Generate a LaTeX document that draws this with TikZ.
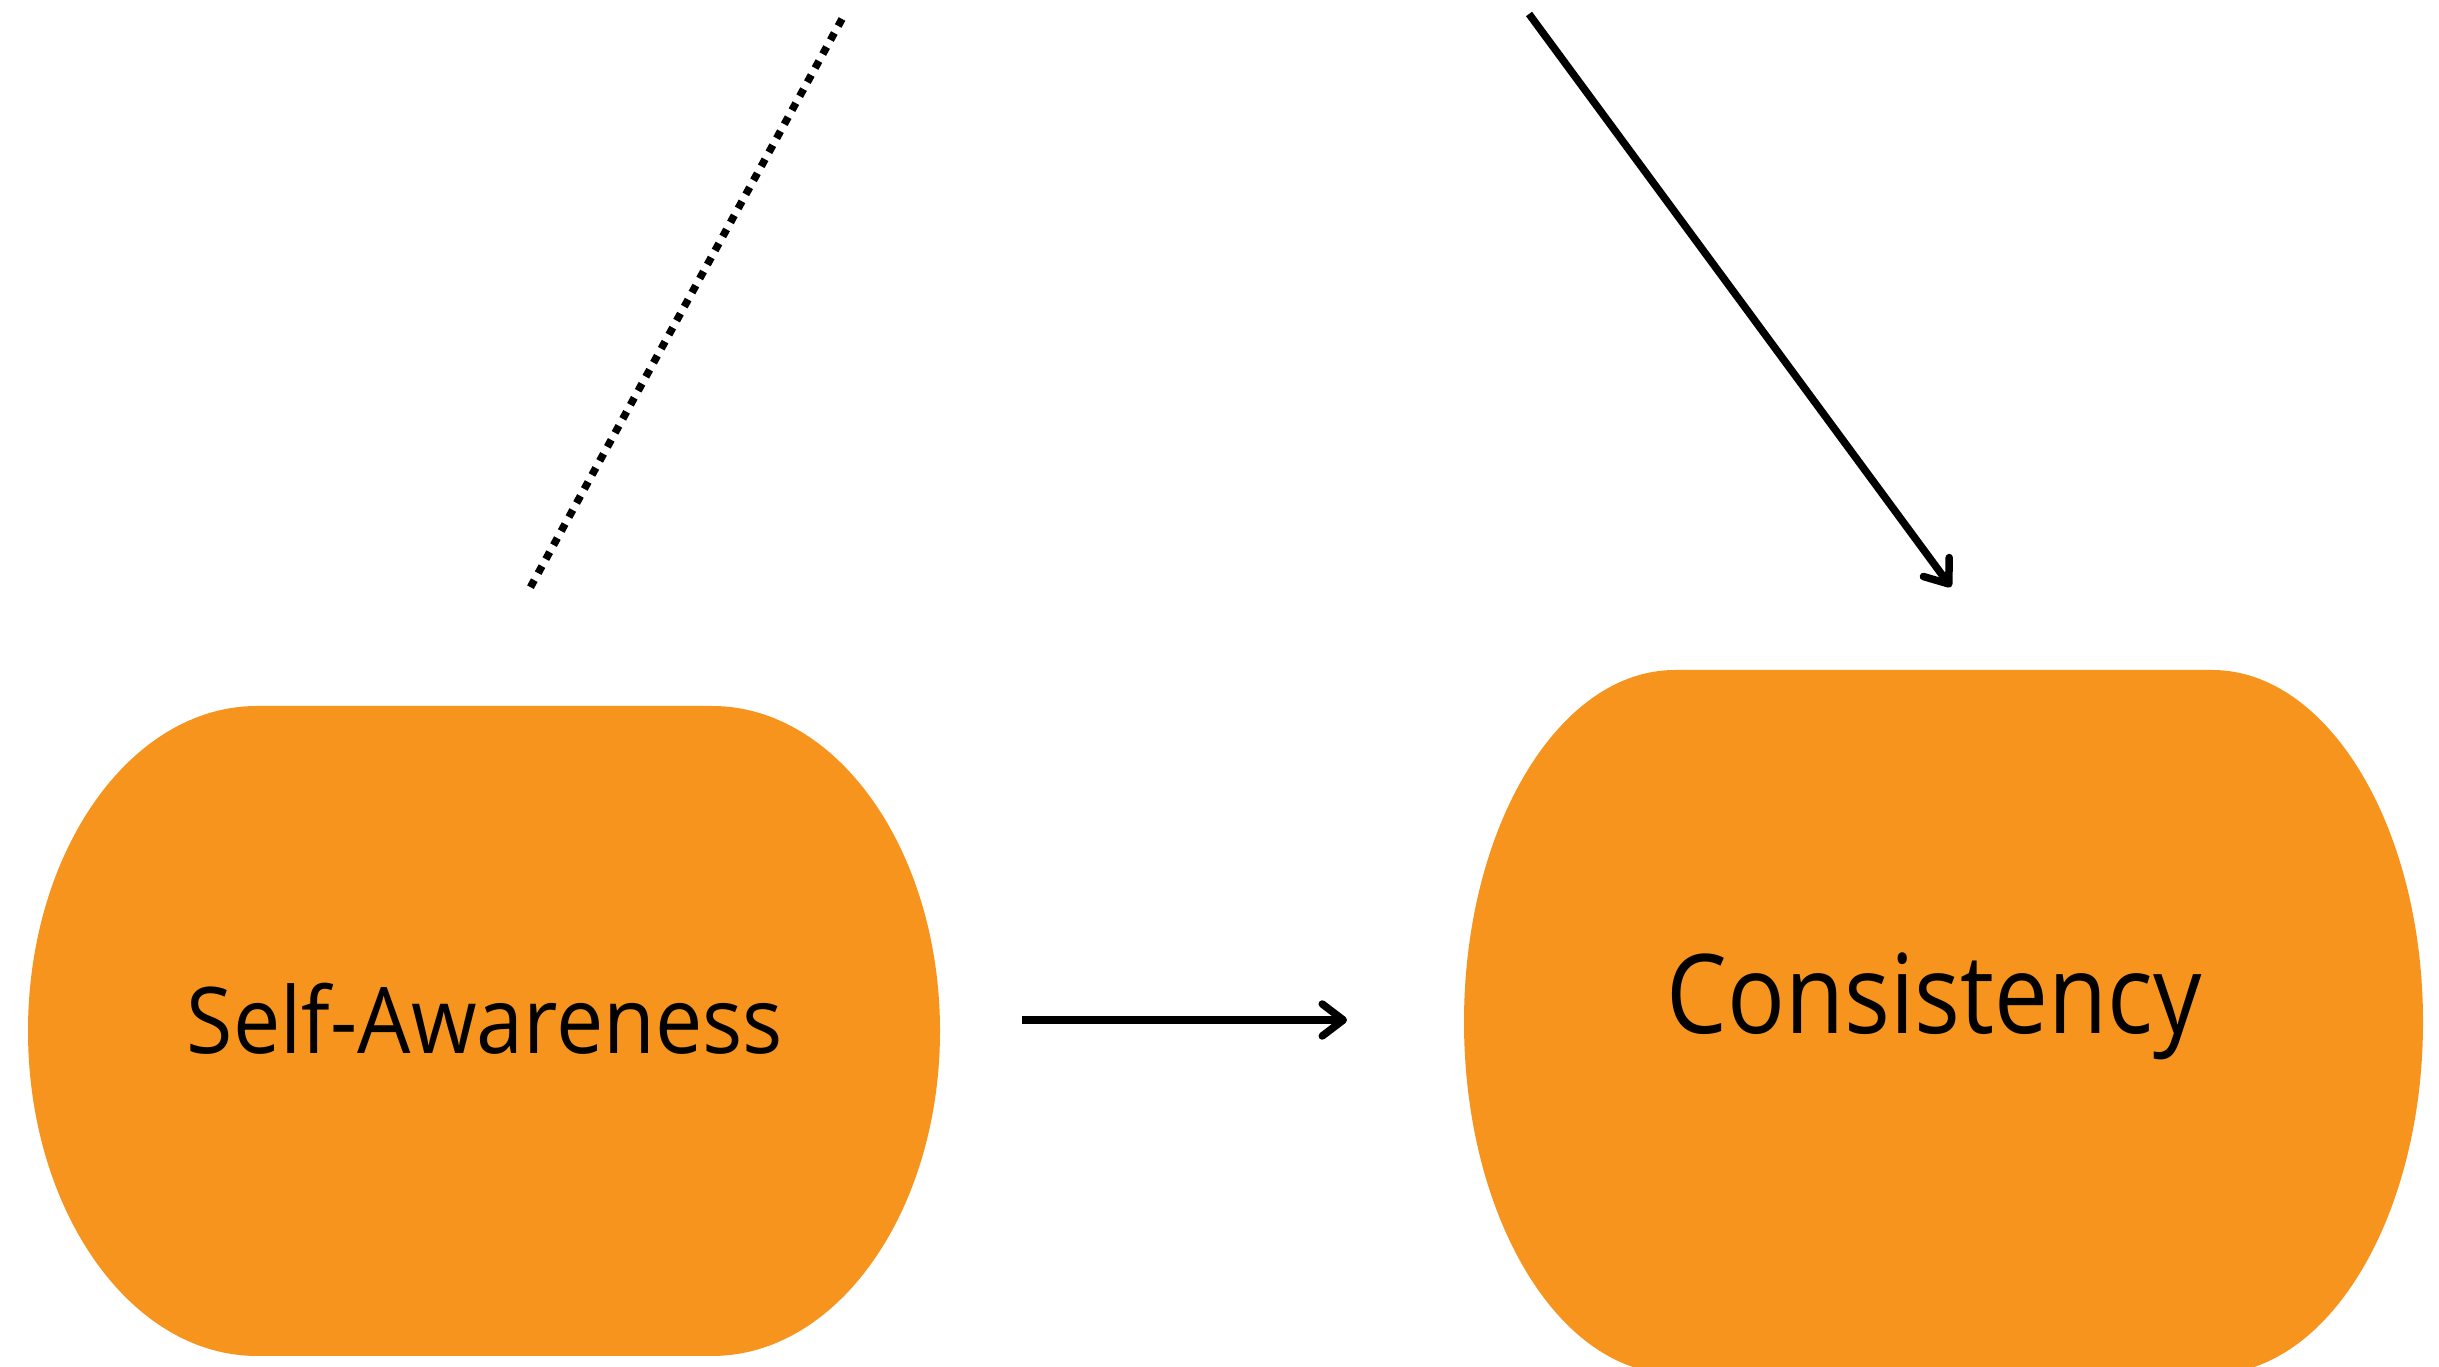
\documentclass[tikz,border=0pt]{standalone}
\usepackage{fontspec}
\setmainfont{Open Sans}
\newfontfamily\leftlabelfont[FakeStretch=0.917]{Open Sans}
\newfontfamily\rightlabelfont[FakeStretch=0.874]{Open Sans}
\usetikzlibrary{arrows.meta}
\definecolor{boxorange}{HTML}{F7941E}
\tikzset{
  blob/.style={fill=boxorange, draw=none},
  label text/.style={anchor=base, inner sep=0pt, text=black},
  link/.style={line width=7.5pt, draw=black,
    -{Straight Barb[length=21pt, width=32pt, round, line width=7.5pt]}},
  dotlink/.style={line width=7.5pt, draw=black, dash pattern=on 8pt off 8pt}
}
\begin{document}
\begin{tikzpicture}[x=1pt, y=1pt]
  \useasboundingbox (0,0) rectangle (2439,1367);
  \clip (0,0) rectangle (2439,1367);

  % left stadium
  \path[blob] (257,661) -- (712,661)
    arc[start angle=90, end angle=-90, x radius=228, y radius=325]
    -- (257,11)
    arc[start angle=270, end angle=90, x radius=229, y radius=325] -- cycle;

  % right stadium (runs past the lower edge)
  \path[blob] (1675,697) -- (2212,697)
    arc[start angle=90, end angle=-90, x radius=211, y radius=352]
    -- (1675,-7)
    arc[start angle=270, end angle=90, x radius=211, y radius=352] -- cycle;

  \node[label text, font=\leftlabelfont\fontsize{92}{110}\selectfont] (sa) at (485,313) {Self-Awareness};
  \node[label text, font=\rightlabelfont\fontsize{110}{130}\selectfont] (cons) at (1934,333) {Consistency};

  % connectors
  \coordinate (h1) at (1022,347);
  \coordinate (h2) at (1347,347);
  \coordinate (d1) at (1529,1353);
  \coordinate (d2) at (1951,780);
  \coordinate (p1) at (842,1348);
  \coordinate (p2) at (530,779);

  \draw[link] (h1) -- (h2);
  \draw[link] (d1) -- (d2);
  \draw[dotlink] (p1) -- (p2);
\end{tikzpicture}
\end{document}
